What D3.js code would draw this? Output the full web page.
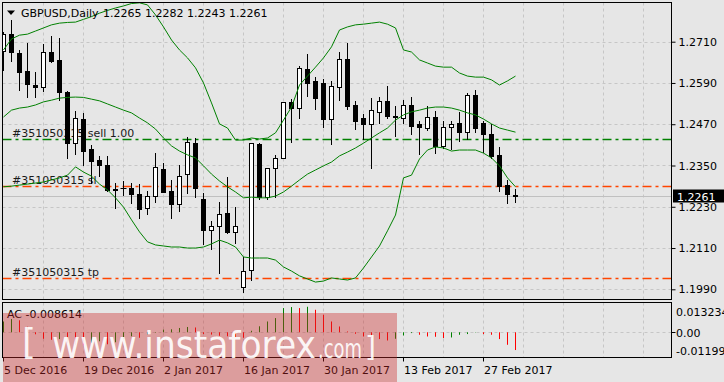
<!DOCTYPE html>
<html><head><meta charset="utf-8">
<script src="https://cdn.jsdelivr.net/npm/d3@7"></script>
<style>
html,body{margin:0;padding:0;background:#e6e6e6;overflow:hidden;}
svg{display:block;}
text{font-family:"DejaVu Sans",sans-serif;}
</style></head><body>
<svg id="c" width="724" height="382"></svg>
<script>
// ---------- data ----------
const symbol = "GBPUSD,Daily";
const lastOHLC = ["1.2265", "1.2282", "1.2243", "1.2261"];
const dateTicks = ["5 Dec 2016","19 Dec 2016","2 Jan 2017","16 Jan 2017","30 Jan 2017","13 Feb 2017","27 Feb 2017"];
const dateTickBars = [0,10,20,30,40,50,60];
const priceTicks = [1.2710,1.2590,1.2470,1.2350,1.2230,1.2110,1.1990];
const acTicks = [0.013234, 0.00, -0.011990];
const acTickLabels = ["0.013234","0.00","-0.011990"];
const acLabel = "AC -0.008614";
const lastPrice = 1.2261;
const tradeLevels = [1.2426, 1.2290, 1.2022];
const tradeLabels = ["#351050315 sell 1.00", "#351050315 sl", "#351050315 tp"];

const openP = [1.2683,1.2731,1.2676,1.2625,1.2584,1.2579,1.2679,1.2657,1.2565,1.2416,
1.2484,1.2397,1.2366,1.2351,1.2282,1.2286,1.2284,1.2266,1.2226,1.2262,
1.2340,1.2276,1.2237,1.2324,1.2414,1.2252,1.2163,1.2175,1.2211,1.2156,
1.1998,1.2046,1.2412,1.2259,1.2342,1.2373,1.2534,1.2518,1.2632,1.2596,
1.2589,1.2484,1.2579,1.2660,1.2526,1.2487,1.2470,1.2507,1.2538,1.2495,
1.2487,1.2526,1.2471,1.2458,1.2490,1.2407,1.2461,1.2474,1.2446,1.2555,
1.2474,1.2442,1.2381,1.2293,1.2265];
const highP = [1.2739,1.2773,1.2686,1.2705,1.2623,1.2702,1.2727,1.2720,1.2567,1.2508,
1.2502,1.2410,1.2378,1.2378,1.2298,1.2305,1.2298,1.2295,1.2276,1.2387,
1.2356,1.2308,1.2351,1.2434,1.2431,1.2269,1.2189,1.2243,1.2316,1.2230,
1.2085,1.2416,1.2416,1.2344,1.2381,1.2536,1.2543,1.2640,1.2673,1.2608,
1.2601,1.2596,1.2681,1.2705,1.2538,1.2500,1.2545,1.2550,1.2581,1.2524,
1.2540,1.2548,1.2479,1.2523,1.2509,1.2480,1.2479,1.2506,1.2562,1.2570,
1.2479,1.2471,1.2403,1.2308,1.2282];
const lowP = [1.2628,1.2654,1.2570,1.2550,1.2550,1.2567,1.2652,1.2540,1.2373,1.2382,
1.2351,1.2298,1.2320,1.2277,1.2227,1.2264,1.2240,1.2198,1.2208,1.2245,
1.2272,1.2196,1.2218,1.2269,1.2259,1.2121,1.2107,1.2037,1.2153,1.2124,
1.1983,1.2017,1.2253,1.2253,1.2259,1.2371,1.2417,1.2489,1.2553,1.2514,
1.2463,1.2412,1.2540,1.2514,1.2456,1.2427,1.2344,1.2473,1.2489,1.2437,
1.2473,1.2441,1.2382,1.2453,1.2385,1.2402,1.2398,1.2421,1.2427,1.2446,
1.2388,1.2373,1.2277,1.2240,1.2243];
const closeP = [1.2731,1.2679,1.2623,1.2586,1.2577,1.2679,1.2655,1.2565,1.2416,1.2489,
1.2392,1.2363,1.2351,1.2279,1.2278,1.2285,1.2267,1.2223,1.2260,1.2347,
1.2274,1.2237,1.2320,1.2417,1.2284,1.2161,1.2175,1.2208,1.2158,1.2174,
1.2044,1.2414,1.2259,1.2342,1.2373,1.2534,1.2518,1.2634,1.2591,1.2545,
1.2484,1.2581,1.2660,1.2524,1.2480,1.2470,1.2510,1.2538,1.2495,1.2490,
1.2526,1.2466,1.2461,1.2490,1.2408,1.2461,1.2470,1.2446,1.2555,1.2460,
1.2441,1.2379,1.2291,1.2266,1.2261];

const bbUpper = [1.2686,1.2718,1.2729,1.2732,1.2741,1.2750,1.2759,1.2764,1.2766,1.2767,
1.2775,1.2783,1.2793,1.2801,1.2808,1.2814,1.2821,1.2823,1.2817,1.2788,
1.2753,1.2715,1.2686,1.2663,1.2634,1.2590,1.2532,1.2471,1.2459,1.2424,
1.2424,1.2430,1.2427,1.2430,1.2445,1.2482,1.2520,1.2584,1.2610,1.2636,
1.2663,1.2695,1.2744,1.2753,1.2759,1.2761,1.2764,1.2767,1.2761,1.2750,
1.2686,1.2680,1.2657,1.2648,1.2639,1.2636,1.2636,1.2619,1.2610,1.2607,
1.2607,1.2599,1.2584,1.2596,1.2610];
const bbMiddle = [1.2491,1.2511,1.2517,1.2520,1.2526,1.2535,1.2540,1.2546,1.2548,1.2549,
1.2548,1.2543,1.2538,1.2529,1.2520,1.2511,1.2503,1.2488,1.2474,1.2456,
1.2430,1.2407,1.2392,1.2381,1.2372,1.2349,1.2325,1.2305,1.2288,1.2273,
1.2256,1.2258,1.2256,1.2256,1.2261,1.2273,1.2290,1.2308,1.2325,1.2337,
1.2349,1.2360,1.2378,1.2389,1.2401,1.2415,1.2430,1.2445,1.2459,1.2482,
1.2497,1.2506,1.2511,1.2517,1.2520,1.2520,1.2517,1.2511,1.2503,1.2497,
1.2485,1.2471,1.2459,1.2453,1.2447];
const bbLower = [1.2288,1.2290,1.2293,1.2296,1.2299,1.2302,1.2308,1.2314,1.2322,1.2346,
1.2331,1.2319,1.2296,1.2279,1.2256,1.2229,1.2192,1.2157,1.2128,1.2119,
1.2116,1.2113,1.2113,1.2110,1.2110,1.2113,1.2122,1.2133,1.2125,1.2113,
1.2084,1.2081,1.2081,1.2081,1.2075,1.2055,1.2043,1.2029,1.2020,1.2011,
1.2014,1.2023,1.2020,1.2017,1.2023,1.2052,1.2084,1.2116,1.2160,1.2206,
1.2314,1.2322,1.2369,1.2395,1.2404,1.2401,1.2392,1.2395,1.2395,1.2395,
1.2386,1.2372,1.2349,1.2314,1.2288];

const acValues = [0.00524,0.00640,0.00582,0.00267,-0.00097,-0.00315,-0.00364,-0.00330,-0.00524,-0.00607,
-0.00631,-0.00509,-0.00437,-0.00582,-0.00485,-0.00340,-0.00194,-0.00267,-0.00097,-0.00024,
0.00131,0.00146,0.00209,0.00257,0.00233,-0.00082,-0.00112,-0.00170,-0.00194,-0.00243,
-0.00267,0.00073,0.00291,0.00524,0.00689,0.01174,0.01223,0.01174,0.01237,0.01092,
0.00849,0.00524,0.00281,0.00039,-0.00073,-0.00204,-0.00281,-0.00330,-0.00398,-0.00315,
-0.00155,-0.00039,-0.00121,-0.00204,-0.00218,-0.00281,-0.00252,-0.00121,-0.00087,-0.00015,
-0.00087,-0.00121,-0.00330,-0.00607,-0.008614];

// ---------- layout ----------
const svg = d3.select("#c");
const L = 2.5, R = 671.5, mainTop = 2.5, mainBot = 300, acTop = 302.5, acBot = 357.5;
const x = d3.scaleLinear().domain([0, 83.5]).range([3, 671]);
const xc = i => Math.round(x(i)) + 0.5;
const y = d3.scaleLinear().domain([1.1990, 1.2710]).range([289.3, 41.7]);
const yc = v => Math.round(y(v)) + 0.5;
const ya = d3.scaleLinear().domain([-0.011990, 0.013234]).range([357, 305]);
const yac = v => Math.round(ya(v)) + 0.5;

svg.append("rect").attr("width",724).attr("height",382).attr("fill","#e6e6e6");

const defs = svg.append("defs");
defs.append("clipPath").attr("id","clipMain").append("rect")
  .attr("x",L).attr("y",mainTop).attr("width",R-L).attr("height",mainBot-mainTop);
defs.append("clipPath").attr("id","clipAC").append("rect")
  .attr("x",L).attr("y",acTop).attr("width",R-L).attr("height",acBot-acTop);

const gridColor = "#c6c6c6";
const gridBars = d3.range(5, 84, 5);

// main grid
const gMain = svg.append("g").attr("clip-path","url(#clipMain)");
gMain.selectAll("line.vg").data(gridBars).join("line")
  .attr("x1",d=>Math.round(x(d))+0.5).attr("x2",d=>Math.round(x(d))+0.5)
  .attr("y1",mainTop).attr("y2",mainBot)
  .attr("stroke",gridColor).attr("stroke-dasharray","3,3");
gMain.selectAll("line.hg").data(priceTicks).join("line")
  .attr("x1",L).attr("x2",R).attr("y1",d=>yc(d)).attr("y2",d=>yc(d))
  .attr("stroke",gridColor).attr("stroke-dasharray","3,3");

// current price line
gMain.append("line").attr("x1",L).attr("x2",R)
  .attr("y1",yc(lastPrice)).attr("y2",yc(lastPrice)).attr("stroke","#c0c0c0");

// trade lines
const tradeColors = ["#008000","#ff4500","#ff4500"];
gMain.selectAll("line.trade").data(tradeLevels).join("line")
  .attr("x1",L).attr("x2",R).attr("y1",d=>yc(d)).attr("y2",d=>yc(d))
  .attr("stroke",(d,i)=>tradeColors[i]).attr("stroke-width",1.3)
  .attr("stroke-dasharray","9,4,3,4");
gMain.selectAll("text.trade").data(tradeLevels).join("text")
  .attr("x",12).attr("y",d=>yc(d)-3)
  .attr("font-size",11).attr("fill","#1a1a1a")
  .text((d,i)=>tradeLabels[i]);

// candles
const idx = d3.range(openP.length);
const gC = gMain.append("g");
gC.selectAll("line.wick").data(idx).join("line")
  .attr("x1",xc).attr("x2",xc)
  .attr("y1",i=>Math.round(y(highP[i]))).attr("y2",i=>Math.round(y(lowP[i]))+1)
  .attr("stroke","#000");
idx.forEach(i=>{
  const t = Math.round(y(Math.max(openP[i],closeP[i])));
  const b = Math.round(y(Math.min(openP[i],closeP[i])));
  const up = closeP[i] >= openP[i];
  if (b - t < 1) {
    gC.append("line").attr("x1",xc(i)-3).attr("x2",xc(i)+3)
      .attr("y1",t+0.5).attr("y2",t+0.5).attr("stroke","#000");
  } else {
    gC.append("rect").attr("x",xc(i)-2).attr("y",t+0.5)
      .attr("width",4).attr("height",b-t)
      .attr("fill",up?"#ffffff":"#000000").attr("stroke","#000");
  }
});

// bollinger bands
const line = d3.line().x((d,i)=>xc(i)).y(d=>y(d));
[bbUpper,bbMiddle,bbLower].forEach(arr=>{
  gMain.append("path").attr("d",line(arr)).attr("fill","none")
    .attr("stroke","#008000").attr("stroke-width",1);
});

// AC panel
const gAC = svg.append("g").attr("clip-path","url(#clipAC)");
gAC.selectAll("line.vg").data(gridBars).join("line")
  .attr("x1",d=>Math.round(x(d))+0.5).attr("x2",d=>Math.round(x(d))+0.5)
  .attr("y1",acTop).attr("y2",acBot)
  .attr("stroke",gridColor).attr("stroke-dasharray","3,3");
gAC.append("line").attr("x1",L).attr("x2",R).attr("y1",yac(0)).attr("y2",yac(0))
  .attr("stroke",gridColor).attr("stroke-dasharray","3,3");
gAC.selectAll("line.ac").data(idx).join("line")
  .attr("x1",xc).attr("x2",xc)
  .attr("y1",ya(0)).attr("y2",i=>ya(acValues[i]))
  .attr("stroke",i=>(i===0||acValues[i]>acValues[i-1])?"#008000":"#ff0000");
svg.append("text").attr("x",7).attr("y",317.5).attr("font-size",11).attr("fill","#000").text(acLabel);

// frames
svg.append("rect").attr("x",L).attr("y",mainTop).attr("width",R-L).attr("height",mainBot-mainTop-0.5)
  .attr("fill","none").attr("stroke","#000");
svg.append("rect").attr("x",L).attr("y",acTop).attr("width",R-L).attr("height",acBot-acTop)
  .attr("fill","none").attr("stroke","#000");

// price axis
const pAxis = d3.axisRight(y).tickValues(priceTicks).tickSize(4).tickPadding(3)
  .tickFormat(d3.format(".4f"));
const gPA = svg.append("g").attr("transform",`translate(${R},0)`).call(pAxis);
gPA.select(".domain").remove();
gPA.selectAll("text").attr("font-family","DejaVu Sans").attr("font-size",11).attr("fill","#000");
gPA.selectAll("line").attr("stroke","#000");

// current price box
svg.append("rect").attr("x",673).attr("y",189.5).attr("width",51).attr("height",13).attr("fill","#000");
svg.append("text").attr("x",677).attr("y",yc(lastPrice)+4).attr("font-size",11).attr("fill","#fff")
  .text(d3.format(".4f")(lastPrice));

// AC axis
svg.selectAll("text.acax").data(acTicks).join("text")
  .attr("x",676).attr("y",(d,i)=>[315.5,336.5,354.5][i])
  .attr("font-size",11).attr("fill","#000").text((d,i)=>acTickLabels[i]);
svg.append("line").attr("x1",R).attr("x2",R+4).attr("y1",yac(0)).attr("y2",yac(0)).attr("stroke","#000");

// date axis
svg.selectAll("line.dt").data(dateTickBars).join("line")
  .attr("x1",d=>Math.round(x(d))+0.5).attr("x2",d=>Math.round(x(d))+0.5)
  .attr("y1",acBot).attr("y2",acBot+4).attr("stroke","#000");
svg.selectAll("text.dt").data(dateTickBars).join("text")
  .attr("x",d=>x(d)+1).attr("y",374).attr("font-size",11).attr("fill","#000")
  .text((d,i)=>dateTicks[i]);

// header
svg.append("path").attr("d","M7,10.5 L15,10.5 L11,15 Z").attr("fill","#000");
svg.append("text").attr("x",21).attr("y",17).attr("font-size",11).attr("fill","#000").text(symbol);
svg.append("text").attr("x",103).attr("y",17).attr("font-size",11).attr("fill","#000").text(lastOHLC.join(" "));

// watermark
svg.append("rect").attr("x",3).attr("y",313).attr("width",394).attr("height",69)
  .attr("fill","rgba(205,40,40,0.38)");
const wm = svg.append("g").attr("fill","#ffffff").attr("fill-opacity",0.92)
  .attr("font-family","Liberation Sans, Arial, sans-serif");
wm.append("text").attr("x",22).attr("y",354).attr("font-size",36).text("[");
wm.append("text").attr("x",52).attr("y",358).attr("font-size",38)
  .attr("textLength",264).attr("lengthAdjust","spacingAndGlyphs").text("www.instaforex");
wm.append("text").attr("x",318).attr("y",358).attr("font-size",26)
  .attr("textLength",44).attr("lengthAdjust","spacingAndGlyphs").text(".com");
wm.append("text").attr("x",365).attr("y",357).attr("font-size",28).text("]");
</script>
</body></html>
